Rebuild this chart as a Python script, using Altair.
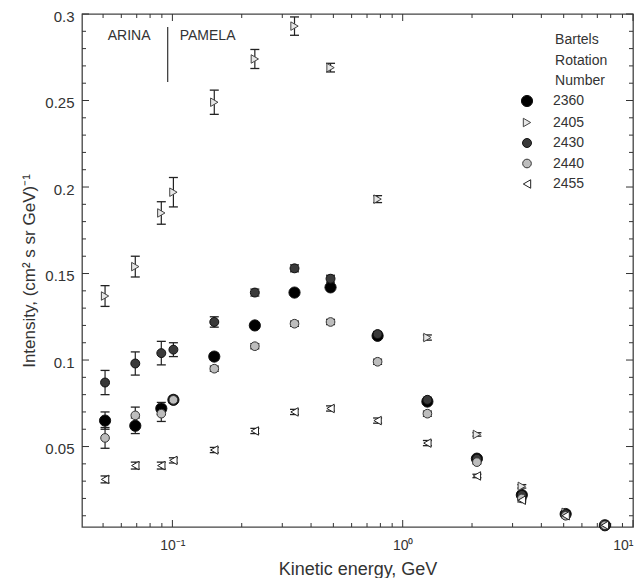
import altair as alt
import pandas as pd

# ---------------- data ----------------
energy = [0.051, 0.069, 0.0895, 0.101, 0.152, 0.228, 0.339, 0.486, 0.778, 1.28, 2.1, 3.29, 5.1, 7.55]

brn = ["2360", "2405", "2430", "2440", "2455"]

flux_2360 = [0.065, 0.062, 0.072, 0.077, 0.102, 0.120, 0.139, 0.142, 0.114, 0.076, 0.043, 0.022, 0.011, 0.0045]
err_2360 = [0.005, 0.0045, 0.0035, 0.002, 0.002, 0.0015, 0.0015, 0.0015, 0.0015, 0.0015, 0.001, 0.001, 0.001, 0.0005]

flux_2405 = [0.137, 0.154, 0.185, 0.197, 0.249, 0.274, 0.293, 0.269, 0.193, 0.113, 0.057, 0.027, 0.012, 0.0045]
err_2405 = [0.006, 0.006, 0.0065, 0.0085, 0.007, 0.0055, 0.0053, 0.0025, 0.002, 0.0015, 0.001, 0.001, 0.001, 0.0005]

flux_2430 = [0.087, 0.098, 0.104, 0.106, 0.122, 0.139, 0.153, 0.147, 0.115, 0.077, 0.043, 0.022, 0.011, 0.0045]
err_2430 = [0.007, 0.0067, 0.0068, 0.004, 0.003, 0.002, 0.002, 0.002, 0.0015, 0.0015, 0.001, 0.001, 0.001, 0.0005]

flux_2440 = [0.055, 0.068, 0.069, 0.077, 0.095, 0.108, 0.121, 0.122, 0.099, 0.069, 0.041, 0.020, 0.010, 0.0045]
err_2440 = [0.006, 0.0048, 0.0045, 0.002, 0.0015, 0.0015, 0.0015, 0.0015, 0.0015, 0.0015, 0.001, 0.001, 0.001, 0.0005]

flux_2455 = [0.031, 0.039, 0.039, 0.042, 0.048, 0.059, 0.070, 0.072, 0.065, 0.052, 0.033, 0.019, 0.010, 0.0045]
err_2455 = [0.002, 0.002, 0.002, 0.0015, 0.0015, 0.0015, 0.0015, 0.0015, 0.0015, 0.0015, 0.001, 0.001, 0.001, 0.0005]

fluxes = [flux_2360, flux_2405, flux_2430, flux_2440, flux_2455]
errors = [err_2360, err_2405, err_2430, err_2440, err_2455]

marker_shapes = ["circle", "triangle-right", "circle", "circle", "triangle-left"]
marker_fills = ["#000000", "#e6e6e6", "#3a3a3a", "#bdbdbd", "#ffffff"]
marker_strokes = ["#111111", "#444444", "#111111", "#333333", "#222222"]
marker_sizes = [125, 72, 80, 75, 72]

x_major = [0.1, 1, 10]
x_minor = [0.05, 0.06, 0.07, 0.08, 0.09, 0.2, 0.3, 0.4, 0.5, 0.6, 0.7, 0.8, 0.9,
           2, 3, 4, 5, 6, 7, 8, 9]
y_major = [0.05, 0.1, 0.15, 0.2, 0.25, 0.3]
y_minor = [0.01, 0.02, 0.03, 0.04, 0.06, 0.07, 0.08, 0.09, 0.11, 0.12, 0.13, 0.14,
           0.16, 0.17, 0.18, 0.19, 0.21, 0.22, 0.23, 0.24, 0.26, 0.27, 0.28, 0.29]

note_labels = ["ARINA", "PAMELA"]
note_E = [0.0524, 0.1076]
note_I = [0.2873, 0.2873]

sep_E = [0.0954]
sep_I1 = [0.2925]
sep_I2 = [0.2607]

legend_title_lines = ["Bartels", "Rotation", "Number"]
legend_title_E = [4.59, 4.59, 4.59]
legend_title_I = [0.2850, 0.2728, 0.2613]

# ---------------- build ----------------
W, H = 551, 513
FONT = "Liberation Sans"
TXT = "#333333"

rows = []
for name, fl, er in zip(brn, fluxes, errors):
    for e, f, d in zip(energy, fl, er):
        rows.append({"E": e, "I": f, "lo": f - d, "hi": f + d, "BRN": name})
df = pd.DataFrame(rows)

xs = alt.Scale(type="log", domain=[0.0405, 10], nice=False)
ys = alt.Scale(domain=[0.0035, 0.3], nice=False, zero=False)

x_axis = alt.Axis(
    values=x_major,
    labelExpr="datum.value < 0.5 ? '10⁻¹' : (datum.value < 5 ? '10⁰' : '10¹')",
    ticks=False, domain=False, grid=False,
    labelFont=FONT, labelFontSize=14, labelColor=TXT, labelPadding=11,
    labelFlush=True, labelOverlap=False, labelBound=False,
    title="Kinetic energy, GeV", titleFont=FONT, titleFontSize=18,
    titleFontWeight="normal", titleColor=TXT, titlePadding=8,
)
y_axis = alt.Axis(
    values=y_major, format="~g",
    ticks=False, domain=False, grid=False,
    labelFont=FONT, labelFontSize=15, labelColor=TXT, labelPadding=8, labelOffset=2,
    labelOverlap=False,
    title="Intensity, (cm² s sr GeV)⁻¹", titleFont=FONT, titleFontSize=17,
    titleFontWeight="normal", titleColor=TXT, titlePadding=6,
)

def X(field):
    return alt.X(field, scale=xs, axis=x_axis)

def Y(field):
    return alt.Y(field, scale=ys, axis=y_axis)

base = alt.Chart(df)

bars = base.mark_rule(color="#222222", strokeWidth=1.2).encode(
    x=X("E:Q"), y=Y("lo:Q"), y2="hi:Q",
)
cap_lo = base.mark_tick(orient="horizontal", size=9, thickness=1.3, color="#222222", opacity=1).encode(
    x=X("E:Q"), y=Y("lo:Q"),
)
cap_hi = base.mark_tick(orient="horizontal", size=9, thickness=1.3, color="#222222", opacity=1).encode(
    x=X("E:Q"), y=Y("hi:Q"),
)

leg = alt.Legend(
    title=None, orient="none", legendX=438, legendY=80,
    labelFont=FONT, labelFontSize=14, labelColor=TXT, labelOffset=19,
    rowPadding=6.5, symbolStrokeWidth=1, symbolOpacity=1,
)

points = base.mark_point(filled=True, opacity=1, strokeWidth=1).encode(
    x=X("E:Q"), y=Y("I:Q"),
    shape=alt.Shape("BRN:N", scale=alt.Scale(domain=brn, range=marker_shapes), legend=leg),
    fill=alt.Fill("BRN:N", scale=alt.Scale(domain=brn, range=marker_fills), legend=leg),
    stroke=alt.Stroke("BRN:N", scale=alt.Scale(domain=brn, range=marker_strokes), legend=leg),
    size=alt.Size("BRN:N", scale=alt.Scale(type="ordinal", domain=brn, range=marker_sizes), legend=leg),
)

def tick_layer(values, channel, side, length):
    d = alt.Chart(pd.DataFrame({"v": values})).mark_rule(color="#333333", strokeWidth=1)
    if channel == "x":
        y0 = H if side == "bottom" else 0
        y1 = H - length if side == "bottom" else length
        return d.encode(x=X("v:Q"), y=alt.value(y0), y2=alt.value(y1))
    x0 = 0 if side == "left" else W
    x1 = length if side == "left" else W - length
    return d.encode(y=Y("v:Q"), x=alt.value(x0), x2=alt.value(x1))

ticks = [
    tick_layer(x_minor, "x", "bottom", 4), tick_layer(x_major, "x", "bottom", 7),
    tick_layer(x_minor, "x", "top", 4), tick_layer(x_major, "x", "top", 7),
    tick_layer(y_minor, "y", "left", 4), tick_layer(y_major, "y", "left", 7),
    tick_layer(y_minor, "y", "right", 4), tick_layer(y_major, "y", "right", 7),
]

notes = alt.Chart(pd.DataFrame({"E": note_E, "I": note_I, "t": note_labels})).mark_text(
    align="left", baseline="middle", font=FONT, fontSize=14, color=TXT
).encode(x=X("E:Q"), y=Y("I:Q"), text="t:N")

sep = alt.Chart(pd.DataFrame({"E": sep_E, "I1": sep_I1, "I2": sep_I2})).mark_rule(
    color="#333333", strokeWidth=1.2
).encode(x=X("E:Q"), y=Y("I1:Q"), y2="I2:Q")

leg_title = alt.Chart(pd.DataFrame({"E": legend_title_E, "I": legend_title_I, "t": legend_title_lines})).mark_text(
    align="left", baseline="middle", font=FONT, fontSize=14, color=TXT
).encode(x=X("E:Q"), y=Y("I:Q"), text="t:N")

chart = alt.layer(
    *ticks, sep, notes, leg_title, bars, cap_lo, cap_hi, points
).properties(
    width=W, height=H,
    autosize=alt.AutoSizeParams(type="none"),
    padding={"left": 74, "top": 6, "right": 2, "bottom": 51},
).configure_view(stroke="#444444", strokeWidth=1.3)

chart.save("out.html", embed_options={"renderer": "svg", "actions": False})
